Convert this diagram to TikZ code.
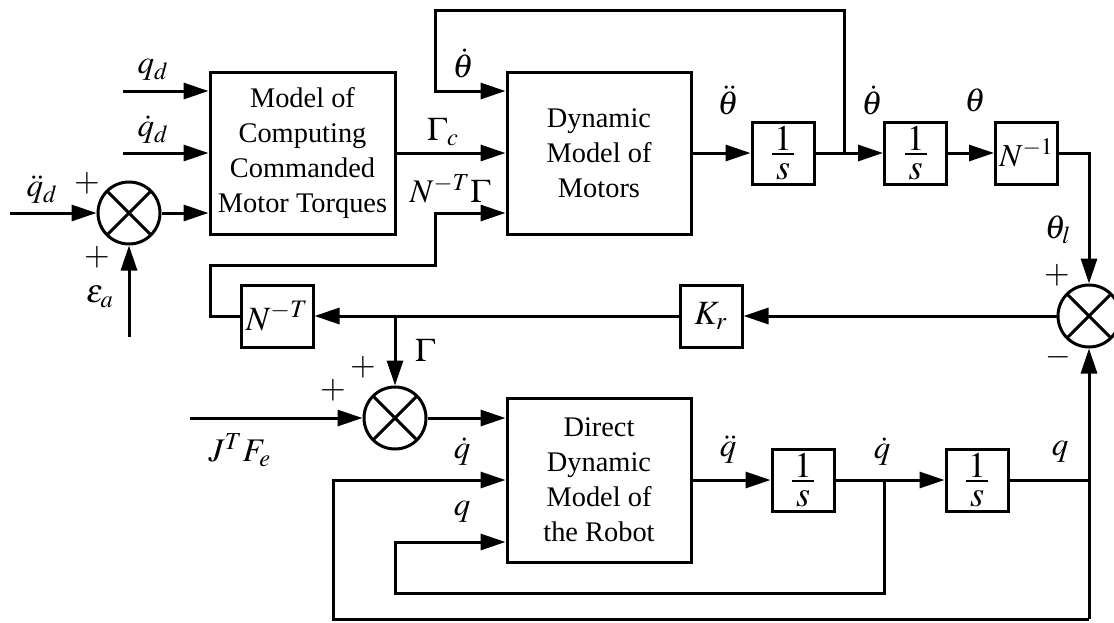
\documentclass[tikz,border=0pt]{standalone}
\usepackage{amsmath}
\usepackage{mathptmx}
\usepackage[no-math]{fontspec}
\setmainfont{Liberation Serif}
\usetikzlibrary{arrows.meta,calc}
\newcommand{\oneovers}{\ensuremath{\vcenter{\hbox to 11pt{\hss$1$\hss}\kern1.5pt\hrule height 0.9pt\kern4pt\hbox to 11pt{\hss$s$\hss}}}}

\begin{document}
\begin{tikzpicture}[x=0.5pt,y=-0.5pt,line width=1.5pt,>={Triangle[length=12.5pt,width=8pt]},
    blk/.style={draw,align=center,inner sep=0pt,font=\fontsize{14.2}{17.5}\selectfont},
    intg/.style={blk,minimum width=31pt,minimum height=31pt,font=\fontsize{17}{18}\selectfont},
    sumj/.style={draw,circle,minimum size=31pt,inner sep=0pt,
        path picture={\draw[line width=1.5pt] (path picture bounding box.north west) -- (path picture bounding box.south east)
        (path picture bounding box.south west) -- (path picture bounding box.north east);}},
    lbl/.style={inner sep=0pt,font=\fontsize{16.5}{18}\selectfont}]
    \useasboundingbox (0,0) rectangle (1114,622);

    \node[blk,minimum width=92.5pt,minimum height=81pt] (mct) at (302.5,153) {Model of\\Computing\\Commanded\\Motor Torques};
    \node[blk,minimum width=92pt,minimum height=81pt] (dmm) at (599,153) {Dynamic\\Model of\\Motors};
    \node[intg,font=\fontsize{18}{18}\selectfont] (i1) at (783,153) {\oneovers};
    \node[intg,font=\fontsize{18}{18}\selectfont] (i2) at (915.5,153) {\oneovers};
    \node[intg,font=\fontsize{16}{18}\selectfont] (ninv) at (1026.5,153) {$N^{-1}$};
    \node[sumj] (s1) at (129,213) {};
    \node[sumj] (s2) at (1089,316) {};
    \node[intg] (kr) at (711,316) {$K_r$};
    \node[intg,minimum width=36pt] (nt) at (277,316) {$N^{-T}$};
    \node[sumj] (s3) at (395,418) {};
    \node[blk,minimum width=92pt,minimum height=82pt] (ddm) at (599,480) {Direct\\Dynamic\\Model of\\the Robot};
    \node[intg,font=\fontsize{18}{18}\selectfont] (i3) at (803,480) {\oneovers};
    \node[intg,font=\fontsize{18}{18}\selectfont] (i4) at (977,480) {\oneovers};

    \coordinate (qdi) at (123,91);
    \coordinate (qdd) at (123,153);
    \coordinate (qddd) at (10,213);
    \coordinate (ea) at (129,337);
    \coordinate (jt) at (844,153);
    \coordinate (tp) at (435,10);
    \coordinate (jg) at (395,316);
    \coordinate (lp1) at (210,265);
    \coordinate (lp2) at (435,265);
    \coordinate (jf) at (190,418);
    \coordinate (jqd) at (884,480);
    \coordinate (jq) at (1089,480);
    \coordinate (qb) at (1089,619);
    \coordinate (ob) at (333,619);
    \coordinate (il) at (395,593);

    \draw[->] (qdi) -- (qdi -| mct.west);
    \draw[->] (qdd) -- (qdd -| mct.west);
    \draw[->] (qddd) -- (s1);
    \draw[->] (ea) -- (s1);
    \draw[->] (s1) -- (s1 -| mct.west);
    \draw[->] (mct) -- (dmm);
    \draw[->] (dmm) -- (i1);
    \draw[->] (i1) -- (i2);
    \draw[->] (jt) |- (tp) |- ([yshift=31pt]dmm.west);
    \draw[->] (i2) -- (ninv);
    \draw[->] (ninv) -| (s2);
    \draw[->] (s2) -- (kr);
    \draw[->] (kr) -- (nt);
    \draw[->] (jg) -- (s3);
    \draw[->] (nt) -| (lp1) -- (lp2) |- ([yshift=-30pt]dmm.west);
    \draw[->] (jf) -- (s3);
    \draw[->] (s3) -- (s3 -| ddm.west);
    \draw[->] (ddm) -- (i3);
    \draw[->] (i3) -- (i4);
    \draw (i4) -- (jq);
    \draw[->] (qb) -- (s2);
    \draw[->] (qb) -- (ob) |- (ddm);
    \draw[->] (jqd) |- (il) |- ([yshift=-31pt]ddm.west);

    \node[lbl] (lqd) at (153,70) {$q_d$};
    \node[lbl] (lqdd) at (153,130) {$\dot{q}_d$};
    \node[lbl] (lqddd) at (42,190) {$\ddot{q}_d$};
    \node[lbl] (p1) at (87,183) {$+$};
    \node[lbl] (p2) at (97,257) {$+$};
    \node[lbl] (lea) at (100,297) {$\varepsilon_a$};
    \node[lbl] (lgc) at (443,132) {$\Gamma_c$};
    \node[lbl] (lntg) at (450,189) {$N^{-T}\Gamma$};
    \node[lbl] (lthd) at (463,63) {$\dot{\theta}$};
    \node[lbl] (lthdd) at (728,100) {$\ddot{\theta}$};
    \node[lbl] (lthd2) at (872,100) {$\dot{\theta}$};
    \node[lbl] (lth) at (975,100) {$\theta$};
    \node[lbl] (lthl) at (1058,230) {$\theta_l$};
    \node[lbl] (p3) at (1057,275) {$+$};
    \node[lbl] (m1) at (1058,357) {$-$};
    \node[lbl] (lg) at (425,350) {$\Gamma$};
    \node[lbl] (p4) at (363,367) {$+$};
    \node[lbl] (p5) at (333,390) {$+$};
    \node[lbl] (ljf) at (240,450) {$J^T F_e$};
    \node[lbl] (lqdi) at (462,452) {$\dot{q}$};
    \node[lbl] (lqi) at (462,512) {$q$};
    \node[lbl] (lqdd2) at (728,450) {$\ddot{q}$};
    \node[lbl] (lqd2) at (882,452) {$\dot{q}$};
    \node[lbl] (lq) at (1060,452) {$q$};
\end{tikzpicture}
\end{document}
